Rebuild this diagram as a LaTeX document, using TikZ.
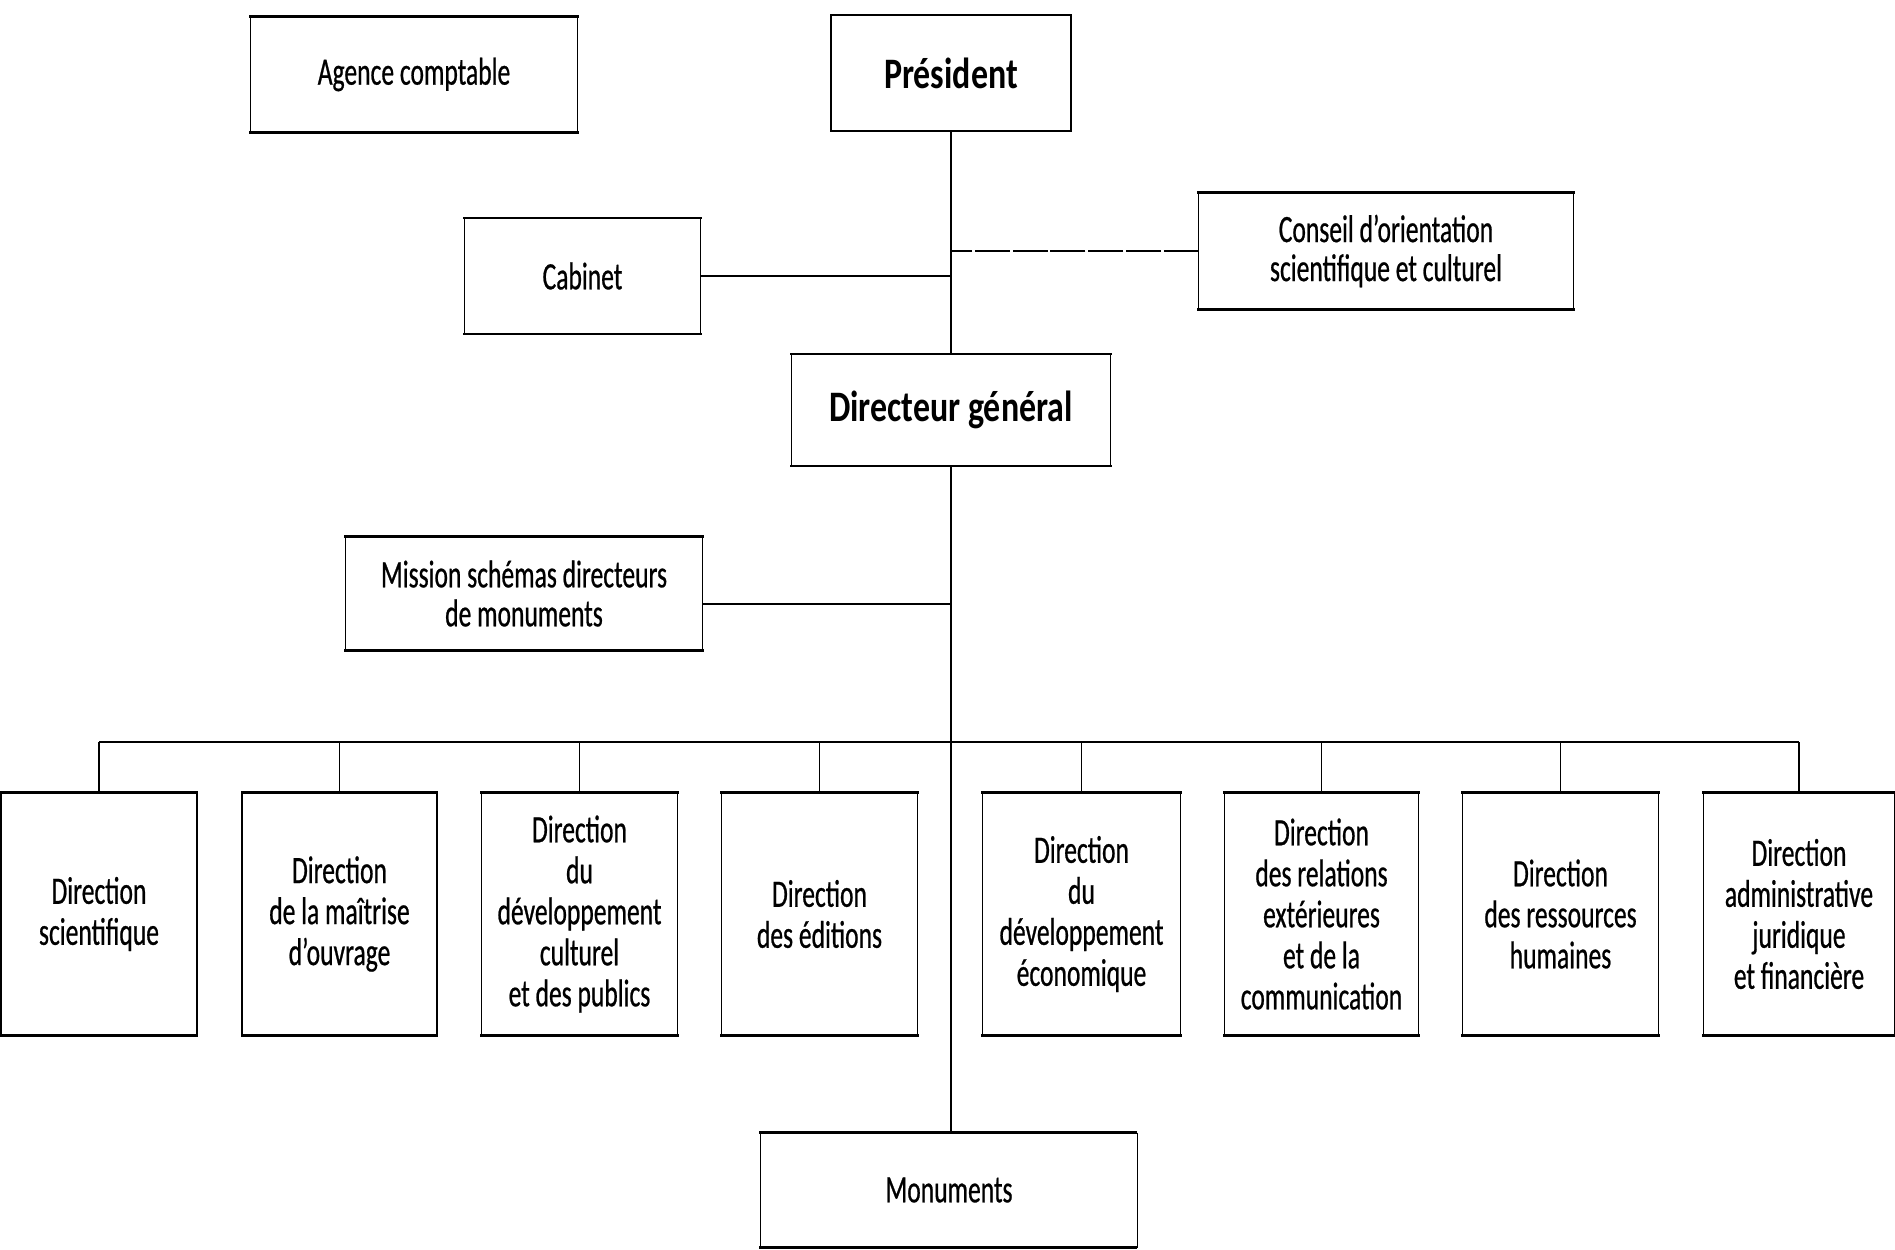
\documentclass[tikz,border=0pt]{standalone}
\usepackage{fontspec}
\setmainfont{Carlito}[FakeStretch=0.66, FakeBold=0.6]
\newfontfamily\boldfont{Carlito}[FakeStretch=0.78]
\newcommand\boxedges[2]{%
  \draw[side] (#1.north west) -- (#1.south west);
  \draw[side] (#1.north east) -- (#1.south east);
  \draw[tb,#2] (#1.north west) -- (#1.north east);
  \draw[tb,#2] (#1.south west) -- (#1.south east);
}
\begin{document}
\begin{tikzpicture}[x=0.4pt,y=-0.4pt,
  bx/.style={draw=none, align=center, inner sep=0pt, font=\fontsize{15.5}{16.4}\selectfont},
  two/.style={font=\fontsize{15.5}{15.6}\selectfont},
  boldtxt/.style={font=\boldfont\bfseries\fontsize{17.4}{19}\selectfont},
  wd/.style={minimum width=#1*0.4pt},
  ht/.style={minimum height=#1*0.4pt},
  conn/.style={line width=0.75pt},
  side/.style={line width=0.75pt},
  tb/.style={line width=1.05pt, line cap=rect},
  brk/.style={dash pattern=on 14pt off 1.1pt},
  sol/.style={}]
\useasboundingbox (0,0) rectangle (1895,1249);

\node[bx,wd=326,ht=115] (agence) at (414,74.5) {Agence comptable};
\node[bx,boldtxt,wd=239,ht=115] (pres) at (951,73) {Président};
\node[bx,wd=235,ht=115] (cab) at (582.5,276) {Cabinet};
\node[bx,two,wd=374,ht=116] (cons) at (1386,251) {Conseil d’orientation\\scientifique et culturel};
\node[bx,boldtxt,wd=318,ht=111] (dg) at (951,410) {Directeur général};
\node[bx,two,wd=356,ht=113] (miss) at (524,593.5) {Mission schémas directeurs\\de monuments};

\node[bx,wd=195,ht=242] (d1) at (99,914) {Direction\\scientifique};
\node[bx,wd=194,ht=242] (d2) at (339.5,914) {Direction\\de la maîtrise\\d’ouvrage};
\node[bx,wd=195,ht=242] (d3) at (579.5,914) {Direction\\du\\développement\\culturel\\et des publics};
\node[bx,wd=195,ht=242] (d4) at (819.5,914) {Direction\\des éditions};
\node[bx,wd=197,ht=242] (d5) at (1081.5,914) {Direction\\du\\développement\\économique};
\node[bx,wd=193,ht=242] (d6) at (1321.5,914) {Direction\\des relations\\extérieures\\et de la\\communication};
\node[bx,wd=195,ht=242] (d7) at (1560.5,914) {Direction\\des ressources\\humaines};
\node[bx,wd=190,ht=242] (d8) at (1799,914) {Direction\\administrative\\juridique\\et financière};

\node[bx,wd=376,ht=114] (mon) at (949,1190) {Monuments};

% box borders
\foreach \n in {agence,pres,cab,cons,dg,miss,d1,d3,d6,d8,mon} {\boxedges{\n}{brk}}
\foreach \n in {d2,d4,d5,d7} {\boxedges{\n}{sol}}

% connectors
\coordinate (bus) at (951,742);
\coordinate (mj) at (951,604);
\draw[conn] (pres.south) -- (dg.north);
\draw[conn] (dg.south) -- (dg.south |- mon.north);
\draw[conn] (cab.east) -- (cab.east -| pres.south);
\draw[conn,brk] (cons.west) -- (cons.west -| pres.south);
\draw[conn] (mj -| miss.east) -- (mj);
\draw[conn] (d1.north |- bus) -- (d8.north |- bus);
\foreach \d in {d1,d2,d3,d4,d5,d6,d7,d8} {\draw[conn] (\d.north) -- (\d.north |- bus);}
\end{tikzpicture}
\end{document}
